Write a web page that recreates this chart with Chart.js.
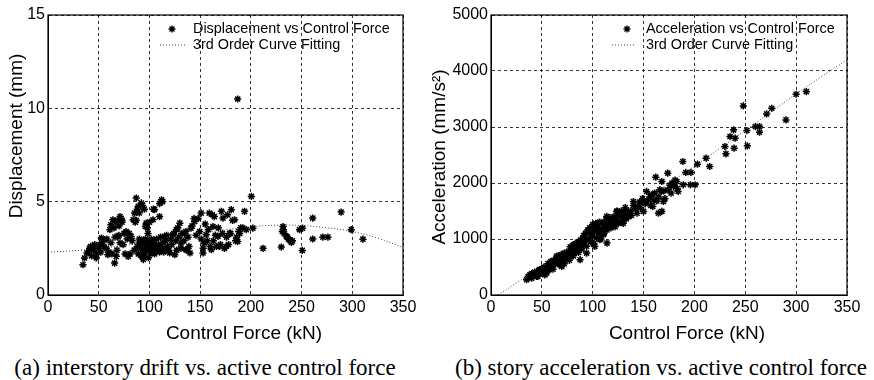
<!DOCTYPE html>
<html>
<head>
<meta charset="utf-8">
<script src="https://cdn.jsdelivr.net/npm/chart.js@4.4.0/dist/chart.umd.min.js"></script>
<style>
body{margin:0;background:#fff;width:874px;height:380px;position:relative;overflow:hidden}
canvas{position:absolute;top:0}
.cap{position:absolute;top:354px;height:28px;line-height:28px;font-family:"Liberation Serif";font-size:23px;color:#000;white-space:nowrap;transform:translateX(-50%)}
</style>
</head>
<body>
<canvas id="driftChart" width="425" height="345" style="left:0"></canvas>
<canvas id="accChart" width="449" height="345" style="left:425px"></canvas>
<div class="cap" style="left:205px">(a) interstory drift vs. active control force</div>
<div class="cap" style="left:661px">(b) story acceleration vs. active control force</div>
<script>
// (a) displacement vs control force
var dispForce = [34.5,36,38.5,41,44,47.6,51,52.6,56,57.5,59,61,62,65.7,67.4,64,69,72,74,77,79,82,84,85.4,87,89,90,92,93.6,94,97,96,98.6,100,101.9,103.5,105,106.8,110,113,115,116.7,120,123,125,126.5,130,131,134.7,136,140,141,144.6,149.5,151,152.8,154,156,159,161,162.6,164,167.6,169,171,172.5,175.8,177,179,180.7,184,187,189,193.8,187,200.5,195.5,202,212,230,231.7,231,235,238,240,248,251,250.7,261,261,271,276,289,299,310.5,
  55,58,60,62,63,66,68,70,71,73,75,76,78,80,81,83,85,86,88,89,90,91,92,93,94,95,95,96,97,98,99,99,100,101,102,102,103,104,105,106,107,108,109,110,111,112,113,114,116,117,118,119,121,122,124,126,127,128,129,131,132,134,136,137,138,139,142,144,146,148,151,153,155,157,158,160,162,163,165,166,168,170,172,174,176,178,180,182,185,186,188,190,192,
  40,42,43,45,46,48,50,52,53,65,67,69,70,71,73,87,88,90,93,95,97,98,100,104,110,112,232,233,236,237,239,241];
var dispValue = [1.62,1.98,2.25,2.5,2.6,1.98,2.7,3.05,2.96,2.5,2.16,3.5,3.76,1.71,2.07,4.03,3.14,4.1,2.7,3.4,2.07,3.14,4.03,4.39,5.19,4.75,2.78,4.93,2.07,1.9,3.85,3.67,3.3,2.78,2.25,4.03,4.57,2.5,4.2,5.0,3.14,2.5,2.25,3.23,2.16,3.5,3.85,2.78,3.3,2.43,2.25,3.58,3.94,3.4,4.39,2.25,2.78,3.23,4.39,2.43,3.67,4.2,3.14,2.6,4.48,4.12,2.6,4.3,3.3,4.57,4.03,2.87,3.3,4.48,10.5,5.28,3.5,3.58,2.5,2.57,3.67,3.4,3.14,2.96,2.82,3.5,3.58,2.39,4.12,3.0,3.1,3.1,4.44,3.5,2.99,
  2.6,3.0,2.3,2.8,2.2,3.1,2.4,3.2,2.8,3.9,3.3,2.2,3.0,3.3,2.2,2.9,2.4,3.9,2.6,2.2,3.0,2.5,2.1,2.9,2.4,2.7,2.2,3.0,2.4,2.6,2.0,2.9,2.4,2.7,3.0,2.3,2.5,2.8,2.2,2.6,3.0,2.4,2.7,2.3,3.1,2.5,2.8,2.3,2.9,3.2,2.6,2.4,3.0,2.7,3.3,2.9,2.4,3.6,3.1,2.5,3.3,2.9,3.4,2.4,3.1,2.6,3.7,4.1,3.2,4.1,3.0,2.5,3.8,2.9,3.5,2.6,4.3,2.9,3.2,2.6,3.6,2.7,3.3,2.5,3.1,2.7,3.3,4.0,2.9,3.1,3.4,3.6,3.6,
  2.3,2.6,2.1,2.4,2.7,2.2,2.5,2.3,2.8,3.6,3.9,4.0,3.7,4.2,4.0,4.0,4.6,4.4,4.8,4.6,3.8,3.6,3.9,4.6,4.9,5.1,3.5,3.3,3.1,3.0,2.9,2.9];
// 3rd order fit, read at fixed forces
var fitForceA = [0,25,50,75,100,125,150,175,200,225,250,275,300,325,350];
var fitDispA = [2.3,2.37,2.48,2.65,2.85,3.08,3.3,3.5,3.65,3.74,3.72,3.6,3.4,3.05,2.55];

// (b) acceleration vs control force
var accForce = [310,300,290,276,271,264,260,264,251.6,252,248,238.5,240,239,235,230,231,215,211.5,203,200.7,196,191.5,196.5,188.6,189,182.7,179.4,184,173.8,168,167.5,162,169.5,168,164.6,160,159,153,156.4,151.5,148,140,150,143.5,136.7,132,123.6,122,113.8,118.7,110.5,105.6,100.7,97.4,94,94,102,107,114,110.5,89,87.6,81,78,72,69.6,64.6,61.3,56.4,54.8,48,44.8,38.4,35,36.6,
  38,40,40,42,43,45,46,47,48,50,50,52,52,53,55,56,57,58,59,60,61,62,63,64,65,66,67,68,69,70,71,72,73,74,75,76,77,78,79,80,81,82,83,84,85,86,87,88,89,90,90,91,92,93,94,95,96,97,98,99,100,100,101,102,103,104,105,106,107,108,109,110,111,112,113,114,115,116,117,118,119,120,121,122,123,124,125,126,127,128,129,130,131,132,133,134,135,137,138,140,142,144,146,147,149,152,155,157,158,161,163,165,166,170,171,174,176,177,178,180,181,183];
var accValue = [3632,3585,3127,3335,3234,3008,3008,2907,2937,2663,3377,2949,2800,2622,2830,2651,2521,2295,2443,2336,1968,1968,2188,2188,2384,1968,2027,1938,1849,2176,2027,1849,2104,1670,1492,1462,1700,1581,1849,1760,1629,1670,1670,1492,1462,1462,1522,1492,1314,1403,1254,1165,1284,1225,1106,987,749,868,987,927,1076,868,630,898,690,749,511,690,571,511,392,452,333,363,273,333,
  320,300,380,350,410,380,330,440,400,470,390,500,430,360,470,560,450,530,600,500,460,620,560,650,590,700,540,640,720,600,680,560,730,650,700,780,620,860,740,800,700,900,780,860,940,760,880,980,820,1000,900,1060,950,1100,870,1160,1000,1200,950,1120,1050,1260,920,1140,1280,1020,1200,1100,1300,1000,1180,1280,1100,1220,1350,1160,1300,1240,1380,1200,1320,1260,1400,1220,1340,1500,1280,1420,1300,1500,1380,1280,1440,1560,1360,1460,1400,1500,1420,1600,1540,1580,1660,1560,1720,1650,1700,1600,1790,1820,1680,1750,1880,1860,1720,1880,1960,1820,2000,1960,2050,1900];
var fitForceB = [7,25,50,75,100,125,150,175,200,225,250,275,300,325,350];
var fitAccB = [0,215,500,790,1085,1385,1690,1995,2300,2620,2940,3265,3590,3900,4200];

var xTicks = [0,50,100,150,200,250,300,350];

function pairs(xs, ys){
    return xs.map(function(x,i){ return {x:x, y:ys[i]}; });
}

var tickFont = {family:'Liberation Sans', size:16};
function plain(v){ return String(v); }

// box round the plot, axis titles and the legend, MATLAB style
var decor = {
    id:'decor',
    afterDraw:function(chart, args, o){
        var c = chart.ctx, a = chart.chartArea;
        c.save();
        c.strokeStyle = '#000'; c.lineWidth = 1.2; c.setLineDash([]);
        c.strokeRect(a.left, a.top, a.right-a.left, a.bottom-a.top);
        c.fillStyle = '#000';
        c.font = '19px "Liberation Sans"';
        c.textAlign = 'center'; c.textBaseline = 'middle';
        c.fillText(o.xTitle, o.xTitleX, o.xTitleY);
        c.save();
        c.translate(o.yTitleX, o.yTitleY); c.rotate(-Math.PI/2);
        c.fillText(o.yTitle, 0, 0);
        c.restore();
        // legend
        c.font = '14.4px "Liberation Sans"';
        c.textAlign = 'left';
        c.fillText(o.label1, o.textX, 29);
        c.fillText(o.label2, o.textX, 45);
        var sx = o.starX, sy = 29, r = 3.5;
        c.lineWidth = 1.4; c.beginPath();
        for (var k = 0; k < 4; k++){
            var ang = k*Math.PI/4;
            c.moveTo(sx - r*Math.cos(ang), sy - r*Math.sin(ang));
            c.lineTo(sx + r*Math.cos(ang), sy + r*Math.sin(ang));
        }
        c.stroke();
        c.lineWidth = 1; c.strokeStyle = '#444'; c.setLineDash([1,2]);
        c.beginPath(); c.moveTo(o.lineX1, 45); c.lineTo(o.lineX2, 45); c.stroke();
        c.restore();
    }
};

function makeChart(id, pts, fit, ymax, ystep, yWidth, padRight, deco){
    return new Chart(document.getElementById(id), {
        type:'scatter',
        data:{datasets:[
            {data:pts, pointStyle:'star', pointRadius:3.6, borderColor:'#000', backgroundColor:'#000', borderWidth:1.5},
            {data:fit, showLine:true, pointRadius:0, borderColor:'#444', borderWidth:1, borderDash:[1,2], tension:0.4, fill:false}
        ]},
        options:{
            responsive:false, animation:false,
            layout:{padding:{top:15, right:padRight, left:0, bottom:0}},
            plugins:{legend:{display:false}, tooltip:{enabled:false}, decor:deco},
            scales:{
                x:{type:'linear', min:0, max:350,
                   afterBuildTicks:function(s){ s.ticks = xTicks.map(function(v){return {value:v};}); },
                   afterFit:function(s){ s.height = 50; },
                   ticks:{color:'#000', font:tickFont, padding:3, maxRotation:0, callback:plain},
                   grid:{color:'#000', lineWidth:0.8, drawTicks:false},
                   border:{display:true, color:'#000', dash:[3,3]}},
                y:{min:0, max:ymax,
                   afterFit:function(s){ s.width = yWidth; },
                   ticks:{stepSize:ystep, color:'#000', font:tickFont, padding:3, callback:plain},
                   grid:{color:'#000', lineWidth:0.8, drawTicks:false},
                   border:{display:true, color:'#000', dash:[3,3]}}
            }
        },
        plugins:[decor]
    });
}

makeChart('driftChart', pairs(dispForce, dispValue), pairs(fitForceA, fitDispA), 15, 5, 48, 22, {
    xTitle:'Control Force (kN)', xTitleX:244, xTitleY:334,
    yTitle:'Displacement (mm)', yTitleX:17, yTitleY:136,
    label1:'Displacement vs Control Force', label2:'3rd Order Curve Fitting',
    textX:193, starX:172, lineX1:160, lineX2:185
});

makeChart('accChart', pairs(accForce, accValue), pairs(fitForceB, fitAccB), 5000, 1000, 66, 27, {
    xTitle:'Control Force (kN)', xTitleX:262, xTitleY:334,
    yTitle:'Acceleration (mm/s²)', yTitleX:15, yTitleY:157,
    label1:'Acceleration vs Control Force', label2:'3rd Order Curve Fitting',
    textX:221, starX:202, lineX1:187, lineX2:210
});
</script>
</body>
</html>
